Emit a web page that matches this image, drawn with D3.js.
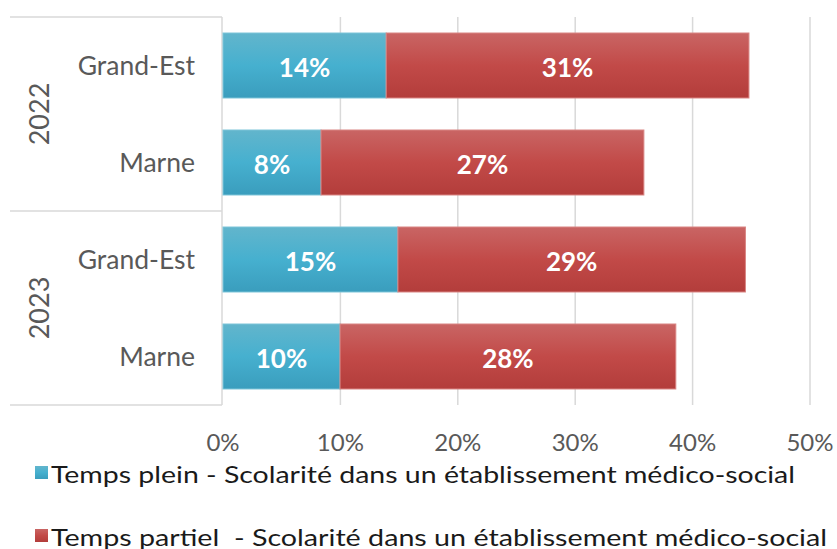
<!DOCTYPE html>
<html>
<head>
<meta charset="utf-8">
<script src="https://cdn.jsdelivr.net/npm/d3@7"></script>
<style>
  body { margin: 0; background: #fff; }
  text { font-family: Lato, "Open Sans", sans-serif; }
</style>
</head>
<body>
<svg id="chart" width="837" height="549"></svg>
<script>
// data
var years = ["2022", "2023"]
var zones = ["Grand-Est", "Marne"]
var tempsPlein = [13.9, 8.35, 14.9, 9.97]
var tempsPartiel = [30.9, 27.5, 29.6, 28.6]
var labelsPlein = ["14%", "8%", "15%", "10%"]
var labelsPartiel = ["31%", "27%", "29%", "28%"]
var xTicks = [0, 10, 20, 30, 40, 50]
var seriesNames = ["Temps plein - Scolarité dans un établissement médico-social",
                   "Temps partiel  - Scolarité dans un établissement médico-social"]

var svg = d3.select("#chart")

var rows = []
years.forEach(function (y) {
    zones.forEach(function (z) { rows.push({ year: y, zone: z }) })
})
rows.forEach(function (r, i) {
    r.plein = tempsPlein[i]
    r.partiel = tempsPartiel[i]
    r.lp = labelsPlein[i]
    r.lq = labelsPartiel[i]
    r.key = r.year + "|" + r.zone
})

var plotLeft = 223, plotRight = 810, plotTop = 17, plotBottom = 405

var x = d3.scaleLinear().domain([0, 50]).range([plotLeft, plotRight])
var y = d3.scaleBand().domain(rows.map(d => d.key)).range([plotTop, plotBottom]).paddingInner(0.33).paddingOuter(0.165)

// gradients like the excel bars
var defs = svg.append("defs")
function grad(id, c0, c1, c2) {
    var g = defs.append("linearGradient").attr("id", id).attr("x1", 0).attr("y1", 0).attr("x2", 0).attr("y2", 1)
    g.append("stop").attr("offset", "0%").attr("stop-color", c0)
    g.append("stop").attr("offset", "50%").attr("stop-color", c1)
    g.append("stop").attr("offset", "100%").attr("stop-color", c2)
}
grad("gBlue", "#62b5cc", "#46b0cf", "#3a9dbd")
grad("gRed", "#c96564", "#c24a48", "#b33d3b")

// gridlines
svg.append("g").selectAll("line").data(xTicks.slice(1)).join("line")
    .attr("x1", d => x(d)).attr("x2", d => x(d))
    .attr("y1", plotTop).attr("y2", plotBottom)
    .attr("stroke", "#d9d9d9").attr("stroke-width", 1.5)

// category axis frame
var axisColor = "#d9d9d9"
svg.append("line").attr("x1", plotLeft - 1).attr("x2", plotLeft - 1).attr("y1", plotTop).attr("y2", plotBottom)
    .attr("stroke", axisColor).attr("stroke-width", 1.5)
var sepY = [plotTop, (y(rows[1].key) + y.bandwidth() + y(rows[2].key)) / 2, plotBottom]
svg.append("g").selectAll("line").data(sepY).join("line")
    .attr("x1", 10).attr("x2", plotLeft - 1)
    .attr("y1", d => d).attr("y2", d => d)
    .attr("stroke", axisColor).attr("stroke-width", 1.5)

// bars
var bars = svg.append("g")
bars.selectAll("rect.plein").data(rows).join("rect")
    .attr("class", "plein")
    .attr("x", x(0)).attr("y", d => y(d.key))
    .attr("width", d => x(d.plein) - x(0)).attr("height", y.bandwidth())
    .attr("fill", "url(#gBlue)").attr("stroke", "#7cc4d8").attr("stroke-width", 1)
bars.selectAll("rect.partiel").data(rows).join("rect")
    .attr("class", "partiel")
    .attr("x", d => x(d.plein)).attr("y", d => y(d.key))
    .attr("width", d => x(d.plein + d.partiel) - x(d.plein)).attr("height", y.bandwidth())
    .attr("fill", "url(#gRed)").attr("stroke", "#d98583").attr("stroke-width", 1)

// data labels
var lab = svg.append("g").attr("fill", "#fff").attr("font-weight", "bold").attr("font-size", 26)
    .attr("text-anchor", "middle").attr("dominant-baseline", "central")
lab.selectAll("text.p").data(rows).join("text")
    .attr("class", "p")
    .attr("x", d => (x(0) + x(d.plein)) / 2).attr("y", d => y(d.key) + y.bandwidth() / 2 + 1)
    .text(d => d.lp)
lab.selectAll("text.q").data(rows).join("text")
    .attr("class", "q")
    .attr("x", d => (x(d.plein) + x(d.plein + d.partiel)) / 2).attr("y", d => y(d.key) + y.bandwidth() / 2 + 1)
    .text(d => d.lq)

// category labels
svg.append("g").selectAll("text").data(rows).join("text")
    .attr("x", 195).attr("y", d => y(d.key) + y.bandwidth() / 2 - 1)
    .attr("text-anchor", "end").attr("dominant-baseline", "central")
    .attr("font-size", 26.5).attr("fill", "#595959")
    .text(d => d.zone)

// year labels (rotated)
svg.append("g").selectAll("text").data(years).join("text")
    .attr("transform", function (d, i) {
        var cy = (sepY[i] + sepY[i + 1]) / 2
        return "translate(38," + cy + ") rotate(-90)"
    })
    .attr("text-anchor", "middle").attr("dominant-baseline", "central")
    .attr("font-size", 27).attr("fill", "#595959")
    .text(d => d)

// x axis labels
svg.append("g").selectAll("text").data(xTicks).join("text")
    .attr("x", d => x(d)).attr("y", 441)
    .attr("text-anchor", "middle").attr("dominant-baseline", "central")
    .attr("font-size", 24).attr("fill", "#595959")
    .text(d => d + "%")

// legend
var legend = svg.append("g")
var legY = [473, 536]
var legFill = ["url(#gBlue)", "url(#gRed)"]
var legLen = [744, 776]
seriesNames.forEach(function (name, i) {
    legend.append("rect").attr("x", 35).attr("y", legY[i] - 7).attr("width", 13).attr("height", 13)
        .attr("fill", legFill[i])
    legend.append("text").attr("x", 51).attr("y", legY[i])
        .attr("dominant-baseline", "central").attr("font-size", 24).attr("fill", "#1a1a1a")
        .attr("xml:space", "preserve").style("white-space", "pre")
        .attr("textLength", legLen[i]).attr("lengthAdjust", "spacingAndGlyphs")
        .text(name)
})
</script>
</body>
</html>
